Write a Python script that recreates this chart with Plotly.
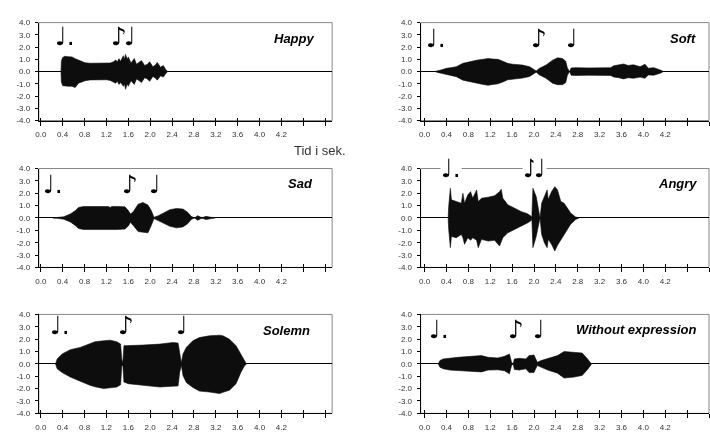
import plotly.graph_objects as go

# ---------------- data ----------------
panel_titles = ["Happy", "Soft", "Sad", "Angry", "Solemn", "Without expression"]

happy_t = [0.37, 0.376, 0.40, 0.44, 0.50, 0.57, 0.63, 0.69, 0.75, 0.81, 0.90, 1.00, 1.10, 1.20, 1.27, 1.33, 1.37, 1.40, 1.43, 1.46,
           1.51, 1.53, 1.55, 1.58, 1.60, 1.65, 1.71, 1.75, 1.80, 1.84, 1.90, 1.95, 1.99, 2.05, 2.10, 2.13, 2.19, 2.24, 2.28, 2.32]
happy_up = [0, 0.85, 1.15, 1.25, 1.22, 1.2, 1.05, 0.93, 0.8, 0.72, 0.68, 0.67, 0.67, 0.67, 0.7, 0.8, 0.95, 0.8, 1.05, 0.85,
            1.3, 1.0, 1.4, 1.0, 1.2, 0.7, 1.07, 0.6, 0.75, 0.9, 0.5, 0.6, 0.8, 0.4, 0.55, 0.75, 0.35, 0.5, 0.2, 0]
happy_lo = [0, -0.85, -1.15, -1.2, -1.2, -1.2, -1.3, -0.95, -0.85, -0.75, -0.68, -0.67, -0.67, -0.67, -0.72, -0.85, -0.95, -0.8, -1.05, -0.9,
            -1.2, -1.0, -1.45, -1.0, -1.2, -0.75, -1.05, -0.6, -0.75, -0.9, -0.5, -0.6, -0.8, -0.4, -0.55, -0.7, -0.35, -0.45, -0.2, 0]

soft_t = [0.20, 0.22, 0.30, 0.40, 0.50, 0.58, 0.70, 0.82, 0.95, 1.07, 1.16, 1.25, 1.34, 1.43, 1.52, 1.61, 1.79, 1.92, 2.01, 2.04,
          2.10, 2.22, 2.34, 2.43, 2.52, 2.58, 2.61, 2.65, 2.68, 2.75, 3.00, 3.20, 3.40, 3.46, 3.55, 3.64, 3.72, 3.82, 3.94, 4.03,
          4.09, 4.19, 4.31, 4.37]
soft_up = [0, 0.05, 0.13, 0.27, 0.33, 0.4, 0.67, 0.8, 0.93, 1.0, 1.07, 1.02, 1.0, 0.85, 0.67, 0.6, 0.53, 0.4, 0.13, 0.05,
           0.27, 0.53, 0.93, 1.12, 1.07, 0.85, 0.3, 0.0, 0.3, 0.32, 0.3, 0.3, 0.32, 0.48, 0.55, 0.62, 0.5, 0.55, 0.4, 0.6,
           0.27, 0.32, 0.13, 0]
soft_lo = [0, -0.05, -0.13, -0.27, -0.35, -0.42, -0.7, -0.85, -0.95, -1.05, -1.12, -1.05, -1.0, -0.85, -0.67, -0.6, -0.53, -0.4, -0.13, -0.05,
           -0.27, -0.55, -0.95, -1.07, -1.07, -0.9, -0.3, 0.0, -0.3, -0.32, -0.3, -0.3, -0.32, -0.45, -0.5, -0.6, -0.5, -0.55, -0.45, -0.55,
           -0.27, -0.3, -0.13, 0]

sad_t = [0.22, 0.30, 0.42, 0.54, 0.63, 0.69, 0.78, 0.90, 1.05, 1.20, 1.24, 1.27, 1.30, 1.40, 1.54, 1.60, 1.64, 1.69, 1.78, 1.87,
         1.96, 2.02, 2.07, 2.15, 2.24, 2.36, 2.48, 2.60, 2.69, 2.75, 2.81, 2.87, 2.93, 2.97, 3.02, 3.12, 3.18]
sad_up = [0, 0.03, 0.1, 0.32, 0.59, 0.85, 0.93, 0.93, 0.93, 0.93, 0.92, 0.85, 0.93, 0.93, 0.9, 0.6, 0.32, 0.5, 1.12, 1.25,
          1.04, 0.6, 0.05, 0.19, 0.4, 0.67, 0.77, 0.72, 0.45, 0.13, 0.0, 0.19, 0.05, 0.05, 0.13, 0.05, 0]
sad_lo = [0, -0.03, -0.1, -0.32, -0.6, -0.85, -0.93, -0.93, -0.93, -0.93, -0.92, -0.88, -0.93, -0.93, -0.9, -0.65, -0.35, -0.6, -1.1, -1.15,
          -1.2, -0.6, -0.05, -0.19, -0.42, -0.67, -0.8, -0.72, -0.45, -0.13, 0, -0.19, -0.05, -0.05, -0.13, -0.05, 0]

angry_t = [0.43, 0.44, 0.47, 0.49, 0.58, 0.67, 0.70, 0.73, 0.79, 0.84, 0.88, 0.95, 0.98, 1.04, 1.16, 1.28, 1.37, 1.40, 1.43, 1.52,
           1.64, 1.76, 1.88, 1.95, 1.96, 1.98, 2.04, 2.08, 2.11, 2.14, 2.19, 2.24, 2.26, 2.32, 2.38, 2.43, 2.49, 2.55, 2.61, 2.67,
           2.76, 2.82]
angry_up = [0, 0.93, 2.4, 1.47, 1.33, 1.2, 2.0, 1.2, 1.87, 2.13, 1.6, 2.27, 1.33, 1.6, 1.68, 1.8, 2.13, 2.32, 1.6, 1.07,
            0.8, 0.53, 0.35, 0.13, 0, 2.4, 1.73, 0.67, 0, 1.2, 1.73, 2.27, 1.5, 2.13, 2.53, 2.27, 1.33, 1.2, 0.8, 0.4,
            0.08, 0]
angry_lo = [0, -0.93, -2.4, -1.5, -1.6, -1.33, -1.6, -2.13, -1.6, -1.8, -1.6, -1.8, -2.4, -1.73, -1.87, -1.8, -2.27, -2.0, -1.6, -1.2,
            -0.93, -0.67, -0.4, -0.2, 0, -2.4, -1.5, -0.67, 0, -1.33, -2.0, -2.4, -1.73, -2.13, -2.67, -2.2, -1.73, -1.33, -0.93, -0.5,
            -0.13, 0]

solemn_t = [0.27, 0.30, 0.39, 0.54, 0.72, 0.90, 0.99, 1.15, 1.27, 1.39, 1.46, 1.48, 1.50, 1.52, 1.60, 1.87, 2.18, 2.42, 2.51, 2.54,
            2.57, 2.60, 2.66, 2.78, 2.90, 3.08, 3.27, 3.33, 3.45, 3.57, 3.66, 3.72, 3.76]
solemn_up = [0, 0.4, 0.8, 1.15, 1.33, 1.6, 1.79, 1.87, 1.92, 1.79, 1.6, 0.4, 0.1, 1.47, 1.47, 1.52, 1.6, 1.73, 1.68, 0.67,
             0.1, 0.8, 1.33, 1.87, 2.13, 2.27, 2.32, 2.27, 2.0, 1.47, 0.8, 0.27, 0]
solemn_lo = [0, -0.4, -0.7, -1.07, -1.4, -1.73, -1.85, -2.0, -1.95, -1.87, -1.68, -0.2, -0.1, -1.47, -1.6, -1.73, -1.87, -1.8, -1.78, -0.67,
             -0.1, -0.93, -1.5, -1.9, -2.2, -2.27, -2.4, -2.3, -2.13, -1.6, -0.67, -0.2, 0]

noexp_t = [0.25, 0.28, 0.34, 0.46, 0.61, 0.85, 1.04, 1.16, 1.34, 1.46, 1.55, 1.59, 1.62, 1.64, 1.73, 1.85, 1.91, 2.00, 2.03, 2.06,
           2.13, 2.25, 2.43, 2.55, 2.73, 2.88, 2.98, 3.04, 3.05]
noexp_up = [0, 0.27, 0.4, 0.48, 0.53, 0.61, 0.67, 0.53, 0.48, 0.61, 0.8, 0.13, 0.0, 0.4, 0.45, 0.4, 0.67, 0.72, 0.4, 0.13,
            0.27, 0.45, 0.67, 1.0, 0.93, 0.88, 0.4, 0.08, 0]
noexp_lo = [0, -0.27, -0.4, -0.5, -0.55, -0.6, -0.65, -0.5, -0.48, -0.55, -0.8, -0.13, 0, -0.45, -0.5, -0.4, -0.7, -0.7, -0.4, -0.13,
            -0.27, -0.5, -0.75, -1.15, -1.07, -0.93, -0.45, -0.08, 0]

note_symbols = ["\u2669.", "\u266A", "\u2669"]
happy_notes_t = [0.40, 1.42, 1.66]
soft_notes_t = [0.16, 2.07, 2.71]
sad_notes_t = [0.18, 1.62, 2.11]
angry_notes_t = [0.43, 1.93, 2.13]
solemn_notes_t = [0.30, 1.54, 2.60]
noexp_notes_t = [0.22, 1.65, 2.11]
notes_level = [2.2, 2.0, 2.0, 3.3, 2.4, 2.05]   # height of note heads (units of the y axis)

x_tickvals = [0.0, 0.4, 0.8, 1.2, 1.6, 2.0, 2.4, 2.8, 3.2, 3.6, 4.0, 4.4, 4.8, 5.2]
x_ticktext = ["0.0", "0.4", "0.8", "1.2", "1.6", "2.0", "2.4", "2.8", "3.2", "3.6", "4.0", "4.2", "", ""]
y_tickvals = [-4, -3, -2, -1, 0, 1, 2, 3, 4]
y_ticktext = ["-4.0", "-3.0", "-2.0", "-1.0", "0.0", "1.0", "2.0", "3.0", "4.0"]
xlabel = "Tid i sek."

# ---------------- layout geometry ----------------
W, H = 710, 435
col_px = [(35, 330), (419, 709)]
col_range = [(-0.036, 5.327), (-0.073, 5.2)]
row_px = [(19, 119), (168, 269), (317, 418)]
title_right_px = [315, 698, 313, 699, 310, 699]
title_y_px = [35, 35, 183, 183, 333, 332]

panels = [
    (happy_t, happy_up, happy_lo, happy_notes_t),
    (soft_t, soft_up, soft_lo, soft_notes_t),
    (sad_t, sad_up, sad_lo, sad_notes_t),
    (angry_t, angry_up, angry_lo, angry_notes_t),
    (solemn_t, solemn_up, solemn_lo, solemn_notes_t),
    (noexp_t, noexp_up, noexp_lo, noexp_notes_t),
]

fig = go.Figure()
layout = dict(width=W, height=H, autosize=False, margin=dict(l=0, r=0, t=0, b=0),
              paper_bgcolor="white", plot_bgcolor="white", showlegend=False)
annotations = []
shapes = []
axis_font = dict(family="Liberation Sans, Arial, sans-serif", size=8, color="#333333")

for i, (t, up, lo, nt) in enumerate(panels):
    r, c = divmod(i, 2)
    n = i + 1
    xa = "x" if n == 1 else f"x{n}"
    ya = "y" if n == 1 else f"y{n}"
    xd = [col_px[c][0] / W, col_px[c][1] / W]
    yd = [1 - row_px[r][1] / H, 1 - row_px[r][0] / H]

    fig.add_trace(go.Scatter(
        x=list(t) + list(t)[::-1], y=list(up) + list(lo)[::-1],
        xaxis=xa, yaxis=ya, mode="lines", fill="toself",
        fillcolor="#0d0d0d", line=dict(color="#0d0d0d", width=0.6), hoverinfo="skip"))

    layout["xaxis" if n == 1 else f"xaxis{n}"] = dict(
        domain=xd, anchor=ya, range=list(col_range[c]), tickvals=x_tickvals, ticktext=x_ticktext,
        showgrid=False, zeroline=False, showline=True, linecolor="black", linewidth=1,
        ticks="outside", ticklen=4, tickcolor="black", tickwidth=1, tickfont=axis_font,
        ticklabelstandoff=2)
    layout["yaxis" if n == 1 else f"yaxis{n}"] = dict(
        domain=yd, anchor=xa, range=[-4, 4], tickvals=y_tickvals, ticktext=y_ticktext,
        showgrid=False, zeroline=True, zerolinecolor="black", zerolinewidth=1,
        showline=True, linecolor="black", linewidth=1,
        ticks="outside", ticklen=3, tickcolor="black", tickwidth=1, tickfont=axis_font,
        ticklabelstandoff=3)

    # overlay x axis giving the upper half of the crossing tick marks
    m = n + 6
    fig.add_trace(go.Scatter(x=[], y=[], xaxis=f"x{m}", yaxis=ya, hoverinfo="skip"))
    layout[f"xaxis{m}"] = dict(
        domain=xd, anchor=ya, overlaying=xa, side="bottom", range=list(col_range[c]),
        tickvals=x_tickvals, showticklabels=False, showgrid=False, zeroline=False,
        showline=False, ticks="inside", ticklen=3, tickcolor="black", tickwidth=1)

    # grey frame (top / right edges)
    shapes.append(dict(type="rect", xref=f"{xa} domain", yref=f"{ya} domain", x0=0, x1=1, y0=0, y1=1,
                       line=dict(color="#888888", width=1), layer="below"))

    # title
    annotations.append(dict(text=panel_titles[i], xref="paper", yref="paper",
                             x=title_right_px[i] / W, y=1 - title_y_px[i] / H,
                             xanchor="right", yanchor="middle", showarrow=False,
                             font=dict(family="Liberation Sans, Arial, sans-serif", size=13, color="black",
                                       style="italic", weight="bold")))
    # notes
    for k, tk in enumerate(nt):
        annotations.append(dict(text=note_symbols[k], xref=xa, yref=ya, x=tk - 0.15, y=notes_level[i] + 0.7,
                                xanchor="left", yanchor="middle", showarrow=False,
                                bgcolor="white" if i == 3 else "rgba(0,0,0,0)", borderpad=0,
                                font=dict(family="DejaVu Sans", size=25, color="black")))

annotations.append(dict(text=xlabel, xref="paper", yref="paper", x=318 / W, y=1 - 150 / H,
                        xanchor="center", yanchor="middle", showarrow=False,
                        font=dict(family="Liberation Sans, Arial, sans-serif", size=13, color="#333333")))

layout["annotations"] = annotations
layout["shapes"] = shapes
fig.update_layout(**layout)
fig.write_html("out.html", config={"displayModeBar": False},
               post_script=("document.body.style.margin='0';document.body.style.padding='0';"
                            "var gd=document.getElementById('{plot_id}');if(gd){gd.style.filter='grayscale(1)';}"))
